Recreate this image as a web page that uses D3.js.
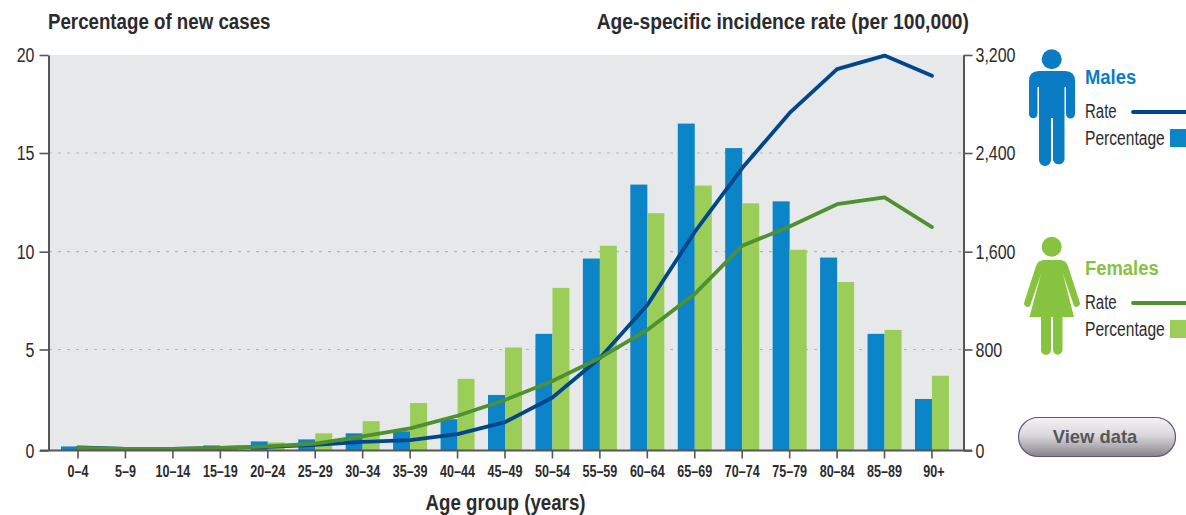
<!DOCTYPE html>
<html>
<head>
<meta charset="utf-8">
<script src="https://cdn.jsdelivr.net/npm/d3@7"></script>
<style>
  html, body { margin: 0; padding: 0; background: #fff; }
  svg { display: block; }
  text { font-family: "Liberation Sans", sans-serif; }
</style>
</head>
<body>
<svg id="chart" width="1186" height="515"></svg>
<script>
const ageGroups = ["0–4","5–9","10–14","15–19","20–24","25–29","30–34","35–39","40–44","45–49","50–54","55–59","60–64","65–69","70–74","75–79","80–84","85–89","90+"];
const malePercent = [0.2,0.1,0.1,0.25,0.45,0.55,0.85,0.95,1.55,2.75,5.8,9.65,13.4,16.5,15.25,12.55,9.7,5.8,2.55];
const femalePercent = [0.1,0.05,0.05,0.15,0.4,0.85,1.45,2.35,3.55,5.1,8.15,10.3,11.95,13.35,12.45,10.1,8.45,6.0,3.7];
const maleRate = [25,12,12,20,28,45,68,82,130,225,420,733,1164,1760,2278,2727,3085,3195,3030];
const femaleRate = [20,12,12,20,32,55,112,175,275,400,550,733,960,1255,1648,1805,1985,2040,1800];
const percentTicks = [0,5,10,15,20];
const rateTicks = [0,800,1600,2400,3200];

const colors = {
  maleBar: "#0b84c8", femaleBar: "#9bce58",
  maleLine: "#00468c", femaleLine: "#4f9130",
  maleIcon: "#0a7cc4", femaleIcon: "#86c440",
  axis: "#555658", ink: "#2b2b2d", plot: "#e7e8ea", grid: "#b4b5b7"
};
const plot = { left: 49, right: 963, top: 55, bottom: 451 };
// Pixel rows of the five labelled gridline levels, shared by both vertical axes
const levelRows = [450.5, 349.5, 251.7, 153, 55];

const svg = d3.select("#chart");

// Squeezes text horizontally to give the look of a condensed typeface
function condense(sel, k) {
  sel.each(function () {
    this.setAttribute("textLength", this.getComputedTextLength() * k);
    this.setAttribute("lengthAdjust", "spacingAndGlyphs");
  });
}

const x = d3.scaleBand().domain(ageGroups).range([54.3, 955.7]);
const yPct = d3.scaleLinear().domain(percentTicks).range(levelRows);
const yRate = d3.scaleLinear().domain(rateTicks).range(levelRows);
const barW = 17;

// Plot background and dotted gridlines
svg.append("rect")
  .attr("x", plot.left).attr("y", plot.top)
  .attr("width", plot.right - plot.left).attr("height", plot.bottom - plot.top)
  .attr("fill", colors.plot);

svg.append("g").selectAll("line")
  .data(percentTicks.filter(d => d > 0 && d < 20))
  .join("line")
  .attr("x1", plot.left).attr("x2", plot.right)
  .attr("y1", d => yPct(d)).attr("y2", d => yPct(d))
  .attr("stroke", colors.grid).attr("stroke-width", 1.2)
  .attr("stroke-dasharray", "3 6");

// Paired bars, one pair per age group
const center = d => x(d) + x.bandwidth() / 2;
svg.append("g").selectAll("rect")
  .data(ageGroups)
  .join("rect")
  .attr("x", d => center(d) - barW)
  .attr("width", barW)
  .attr("y", (d, i) => yPct(malePercent[i]))
  .attr("height", (d, i) => yPct(0) - yPct(malePercent[i]))
  .attr("fill", colors.maleBar);
svg.append("g").selectAll("rect")
  .data(ageGroups)
  .join("rect")
  .attr("x", d => center(d))
  .attr("width", barW)
  .attr("y", (d, i) => yPct(femalePercent[i]))
  .attr("height", (d, i) => yPct(0) - yPct(femalePercent[i]))
  .attr("fill", colors.femaleBar);

// Incidence rate lines
const rateLine = d3.line().x((v, i) => center(ageGroups[i])).y(v => yRate(v));
[[maleRate, colors.maleLine], [femaleRate, colors.femaleLine]].forEach(([vals, c]) => {
  svg.append("path").attr("d", rateLine(vals))
    .attr("fill", "none").attr("stroke", c).attr("stroke-width", 3.8)
    .attr("stroke-linejoin", "round").attr("stroke-linecap", "round");
});

// Axes
function styleAxis(g, fontSize, weight, k) {
  g.selectAll(".domain").attr("stroke", colors.axis).attr("stroke-width", 2);
  g.selectAll(".tick line").attr("stroke", colors.axis).attr("stroke-width", 1.6);
  g.selectAll("text").attr("fill", colors.ink)
    .style("font-size", fontSize + "px").style("font-weight", weight)
    .style("font-family", '"Liberation Sans", sans-serif')
    .call(condense, k);
}

svg.append("g").attr("transform", `translate(${plot.left - 0.5},0)`)
  .call(d3.axisLeft(yPct).tickValues(percentTicks).tickSize(9).tickSizeOuter(0).tickPadding(5))
  .call(g => styleAxis(g, 20.5, "normal", 0.78));

svg.append("g").attr("transform", `translate(${plot.right + 0.5},0)`)
  .call(d3.axisRight(yRate).tickValues(rateTicks).tickFormat(d3.format(",")).tickSize(9).tickSizeOuter(0).tickPadding(3))
  .call(g => styleAxis(g, 20.5, "normal", 0.78));

svg.append("g").attr("transform", `translate(0,${plot.bottom - 0.5})`)
  .call(d3.axisBottom(x).tickSize(8).tickSizeOuter(0).tickPadding(7))
  .call(g => styleAxis(g, 16.5, "bold", 0.76))
  .call(g => g.select(".domain").attr("d", `M${plot.left - 9},0H${plot.right + 9}`))
  .call(g => g.selectAll(".tick text").filter(d => d === "90+").attr("dx", 2));

// Axis titles
const title = (txt, px, py, anchor, k) => svg.append("text")
  .text(txt).attr("x", px).attr("y", py).attr("text-anchor", anchor)
  .attr("fill", colors.ink).style("font-weight", "bold").style("font-size", "22px")
  .call(condense, k);
title("Percentage of new cases", 48, 29, "start", 0.85);
title("Age-specific incidence rate (per 100,000)", 969, 29, "end", 0.875);
title("Age group (years)", 505.5, 510, "middle", 0.85);

// Male pictogram
const maleBody = "M1039,71 H1065 Q1075,71 1075,81 V114 A4,4 0 0 1 1066,114 V87 H1064.5 V160 A6,6 0 0 1 1053,160 V118 H1051 V160 A6,6 0 0 1 1039,160 V87 H1037.5 V114 A4,4 0 0 1 1029,114 V81 Q1029,71 1039,71 Z";
svg.append("circle").attr("cx", 1051.7).attr("cy", 59.3).attr("r", 10).attr("fill", colors.maleIcon);
svg.append("path").attr("d", maleBody).attr("fill", colors.maleIcon);

// Female pictogram
const femaleBody = "M1044,260 H1060 Q1066,260 1068,266 L1080,303 A3.6,3.6 0 0 1 1074,306 L1063,274 L1074,317 H1062.5 V350 A4.5,4.5 0 0 1 1053,350 V317 H1051 V350 A4.5,4.5 0 0 1 1041,350 V317 H1029.5 L1041,274 L1030,306 A3.6,3.6 0 0 1 1024,303 L1036,266 Q1038,260 1044,260 Z";
svg.append("circle").attr("cx", 1051.7).attr("cy", 246.7).attr("r", 10).attr("fill", colors.femaleIcon);
svg.append("path").attr("d", femaleBody).attr("fill", colors.femaleIcon);

// Legend blocks
const legends = [
  { name: "Males", color: colors.maleIcon, line: colors.maleLine, bar: colors.maleBar, top: 84 },
  { name: "Females", color: colors.femaleIcon, line: colors.femaleLine, bar: colors.femaleBar, top: 275 }
];
legends.forEach(l => {
  svg.append("text").text(l.name).attr("x", 1085).attr("y", l.top)
    .attr("fill", l.color).style("font-weight", "bold").style("font-size", "20px")
    .call(condense, 0.92);
  svg.append("text").text("Rate").attr("x", 1085).attr("y", l.top + 34)
    .attr("fill", colors.ink).style("font-size", "20px").call(condense, 0.75);
  svg.append("text").text("Percentage").attr("x", 1085).attr("y", l.top + 61)
    .attr("fill", colors.ink).style("font-size", "20px").call(condense, 0.78);
  svg.append("line").attr("x1", 1133).attr("x2", 1186)
    .attr("y1", l.top + 28).attr("y2", l.top + 28)
    .attr("stroke", l.line).attr("stroke-width", 3.8).attr("stroke-linecap", "round");
  svg.append("rect").attr("x", 1170).attr("y", l.top + 45)
    .attr("width", 16).attr("height", 18).attr("fill", l.bar);
});

// "View data" button
const grad = svg.append("defs").append("linearGradient")
  .attr("id", "buttonFill").attr("x1", 0).attr("y1", 0).attr("x2", 0).attr("y2", 1);
grad.append("stop").attr("offset", "0%").attr("stop-color", "#f4f2f5");
grad.append("stop").attr("offset", "45%").attr("stop-color", "#dcd9de");
grad.append("stop").attr("offset", "100%").attr("stop-color", "#86838a");
svg.append("rect").attr("x", 1018.5).attr("y", 417.5).attr("width", 157).attr("height", 39).attr("rx", 19.5)
  .attr("fill", "url(#buttonFill)").attr("stroke", "#5f5480").attr("stroke-width", 1.2);
svg.append("text").text("View data").attr("x", 1095).attr("y", 443).attr("text-anchor", "middle")
  .attr("fill", "#56565a").style("font-weight", "bold").style("font-size", "18.4px");
</script>
</body>
</html>
